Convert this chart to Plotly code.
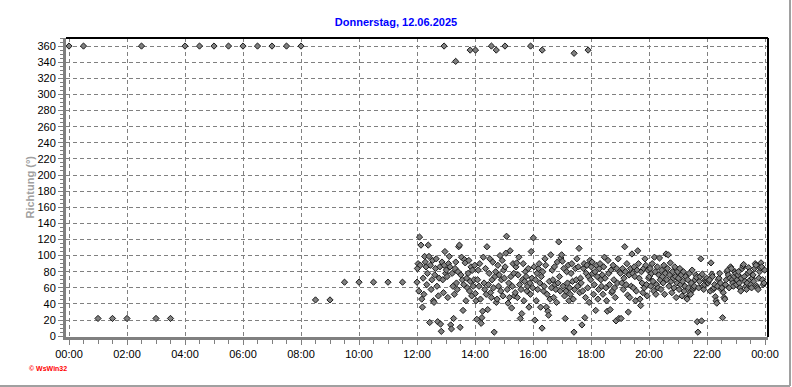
import pandas as pd
import plotly.graph_objects as go

DAY = "2025-06-12"
TITLE = "Donnerstag, 12.06.2025"
Y_TITLE = "Richtung (°)"

# half-hourly readings 00:00 - 12:00
early_times = ["00:00", "00:30", "01:00", "01:30", "02:00", "02:30", "03:00", "03:30",
               "04:00", "04:30", "05:00", "05:30", "06:00", "06:30", "07:00", "07:30",
               "08:00", "08:30", "09:00", "09:30", "10:00", "10:30", "11:00", "11:30", "12:00"]
early_dir = [360, 360, 22, 22, 22, 360, 22, 22,
             360, 360, 360, 360, 360, 360, 360, 360,
             360, 45, 45, 67, 67, 67, 67, 67, 67]

# readings near north in the afternoon
north_times = ["12:56", "13:20", "13:50", "14:01", "14:34", "14:44", "15:02", "15:55", "16:19", "17:25", "17:54"]
north_dir = [360, 341, 355, 355, 360, 355, 360, 360, 355, 351, 355]

# dense readings, 40 per hour (every 1.5 minutes) from 12:00 to 24:00
h12 = [84, 90, 56, 123, 88, 113, 46, 36, 72, 52, 99, 92, 86, 64, 78, 113, 99, 17, 88, 58,
       70, 94, 44, 42, 76, 84, 96, 62, 18, 50, 72, 86, 15, 6, 92, 70, 54, 88, 105, 78]
h13 = [82, 74, 48, 90, 99, 86, 14, 9, 78, 62, 22, 52, 84, 92, 66, 58, 80, 111, 113, 11,
       76, 98, 70, 32, 64, 95, 91, 44, 72, 60, 78, 94, 56, 68, 86, 50, 82, 62, 70, 88]
h14 = [53, 44, 21, 70, 82, 62, 90, 46, 16, 23, 31, 98, 66, 58, 84, 52, 111, 33, 64, 78,
       96, 54, 48, 70, 92, 60, 5, 74, 80, 42, 46, 88, 62, 76, 100, 56, 70, 94, 50, 82]
h15 = [72, 86, 103, 124, 58, 41, 66, 48, 106, 74, 35, 62, 90, 78, 50, 54, 86, 91, 48, 76,
       98, 64, 22, 58, 28, 70, 90, 44, 68, 80, 74, 56, 62, 84, 36, 66, 52, 105, 72, 60]
h16 = [122, 86, 20, 70, 44, 78, 58, 84, 90, 66, 36, 74, 10, 80, 56, 62, 96, 88, 36, 52,
       31, 26, 68, 46, 101, 60, 82, 70, 48, 86, 64, 58, 42, 92, 66, 117, 74, 56, 97, 101]
h17 = [93, 62, 84, 50, 22, 56, 80, 66, 88, 44, 60, 52, 78, 90, 68, 46, 5, 58, 84, 70,
       96, 62, 86, 109, 54, 72, 66, 14, 56, 84, 90, 23, 48, 78, 88, 60, 74, 42, 94, 70]
h18 = [86, 92, 78, 52, 64, 80, 32, 88, 74, 46, 58, 84, 90, 70, 62, 76, 52, 86, 98, 72,
       60, 44, 31, 94, 78, 64, 33, 82, 54, 56, 88, 70, 60, 48, 19, 84, 66, 96, 22, 80]
h19 = [78, 22, 66, 84, 58, 72, 111, 80, 64, 90, 51, 30, 76, 48, 84, 62, 102, 78, 60, 86,
       74, 44, 56, 82, 106, 90, 72, 46, 38, 80, 66, 54, 84, 60, 96, 88, 64, 50, 82, 72]
h20 = [74, 84, 62, 78, 90, 68, 56, 98, 80, 52, 64, 86, 60, 76, 97, 70, 58, 82, 74, 66,
       88, 52, 78, 102, 70, 84, 101, 62, 76, 91, 68, 54, 80, 72, 60, 86, 74, 48, 66, 80]
h21 = [72, 58, 84, 64, 76, 50, 68, 80, 56, 62, 74, 48, 46, 70, 60, 78, 54, 52, 66, 82,
       58, 60, 62, 70, 76, 73, 18, 5, 60, 68, 74, 96, 19, 77, 62, 58, 64, 70, 68, 72]
h22 = [68, 66, 69, 70, 56, 91, 77, 74, 58, 60, 64, 49, 44, 41, 62, 70, 72, 78, 66, 58,
       60, 23, 54, 48, 46, 64, 70, 80, 82, 76, 60, 72, 86, 84, 70, 66, 62, 74, 80, 78]
h23 = [64, 70, 76, 80, 66, 60, 56, 72, 84, 87, 89, 74, 68, 62, 58, 66, 78, 85, 80, 70,
       64, 60, 72, 76, 68, 84, 90, 88, 62, 60, 58, 72, 80, 85, 91, 86, 70, 64, 66, 82]
dense_hours = {12: h12, 13: h13, 14: h14, 15: h15, 16: h16, 17: h17,
               18: h18, 19: h19, 20: h20, 21: h21, 22: h22, 23: h23}

day0 = pd.Timestamp(DAY)
xs, ys = [], []
for t, v in zip(early_times, early_dir):
    xs.append(pd.Timestamp(f"{DAY} {t}"))
    ys.append(v)
for hr, vals in dense_hours.items():
    for i, v in enumerate(vals):
        xs.append(day0 + pd.Timedelta(hours=hr) + pd.Timedelta(seconds=45 + 90 * i))
        ys.append(v)
for t, v in zip(north_times, north_dir):
    xs.append(pd.Timestamp(f"{DAY} {t}"))
    ys.append(v)

fig = go.Figure()
fig.add_trace(go.Scatter(
    x=xs, y=ys, mode="markers",
    marker=dict(symbol="diamond", size=4.8, color="#808080",
                line=dict(color="#1a1a1a", width=1)),
    showlegend=False,
))

W, H = 792, 387
L, R, T, B = 66, 24, 38, 50
pw, ph = W - L - R, H - T - B

x0 = day0 - pd.Timedelta(minutes=6.2)
x1 = day0 + pd.Timedelta(hours=24, minutes=6.2)

fig.update_layout(
    width=W, height=H,
    margin=dict(l=L, r=R, t=T, b=B),
    paper_bgcolor="white", plot_bgcolor="white",
    font=dict(family="Liberation Sans, Arial, sans-serif", size=11, color="black"),
    title=dict(text=TITLE, x=0.5, xref="container", y=1 - 22 / H, yref="container",
               yanchor="middle", xanchor="center",
               font=dict(family="Liberation Sans, Arial, sans-serif", size=11,
                         color="#0000ff", weight="bold")),
    xaxis=dict(
        type="date", range=[x0, x1], automargin=False,
        tickformat="%H:%M", dtick=2 * 3600 * 1000,
        tick0=f"{DAY} 00:00",
        showgrid=True, gridcolor="#808080", griddash="4px,3px", gridwidth=1,
        ticks="outside", ticklen=5, tickcolor="#808080", tickwidth=1,
        minor=dict(dtick=30 * 60 * 1000, ticks="outside", ticklen=4,
                   tickcolor="#808080", showgrid=False),
        showline=True, linecolor="#808080", linewidth=3,
        zeroline=False, tickfont=dict(size=11),
    ),
    yaxis=dict(
        range=[-1, 370], tick0=0, dtick=20, automargin=False,
        showgrid=True, gridcolor="#808080", griddash="4px,3px", gridwidth=1,
        ticks="outside", ticklen=5, tickcolor="#808080", tickwidth=1,
        minor=dict(dtick=5, ticks="outside", ticklen=3, tickcolor="#808080",
                   showgrid=False),
        showline=True, linecolor="#808080", linewidth=3,
        zeroline=False, tickfont=dict(size=11),
    ),
)

# y-axis title placed explicitly
fig.add_annotation(text=Y_TITLE, xref="paper", yref="paper",
                   x=(29 - L) / pw, y=0.5, textangle=-90,
                   xanchor="center", yanchor="middle", showarrow=False,
                   borderpad=0,
                   font=dict(size=11, color="#a0a0a0", weight="bold"))

# black frame on top and right of the plot area
fig.add_shape(type="line", xref="paper", yref="paper", x0=0, x1=1, y0=1, y1=1,
              line=dict(color="black", width=2))
fig.add_shape(type="line", xref="paper", yref="paper", x0=1, x1=1, y0=0, y1=1,
              line=dict(color="black", width=2))
# light outer frame (right and bottom edges of the image)
xr = (790 - L) / pw
yb = -(386 - (H - B)) / ph
fig.add_shape(type="line", xref="paper", yref="paper", x0=-L / pw, x1=xr, y0=yb, y1=yb,
              line=dict(color="#a0a0a0", width=2))
fig.add_shape(type="line", xref="paper", yref="paper", x0=xr, x1=xr, y0=yb, y1=(H - B) / ph,
              line=dict(color="#a0a0a0", width=2))

fig.add_annotation(text="© WsWin32", xref="paper", yref="paper",
                   x=(27 - L) / pw, y=-(368 - (H - B)) / ph,
                   xanchor="left", yanchor="middle", showarrow=False,
                   font=dict(size=7, color="#ff0000", weight="bold"))

fig.write_html("out.html", config={"displayModeBar": False},
               post_script="document.body.style.margin='0';document.body.style.padding='0';")
